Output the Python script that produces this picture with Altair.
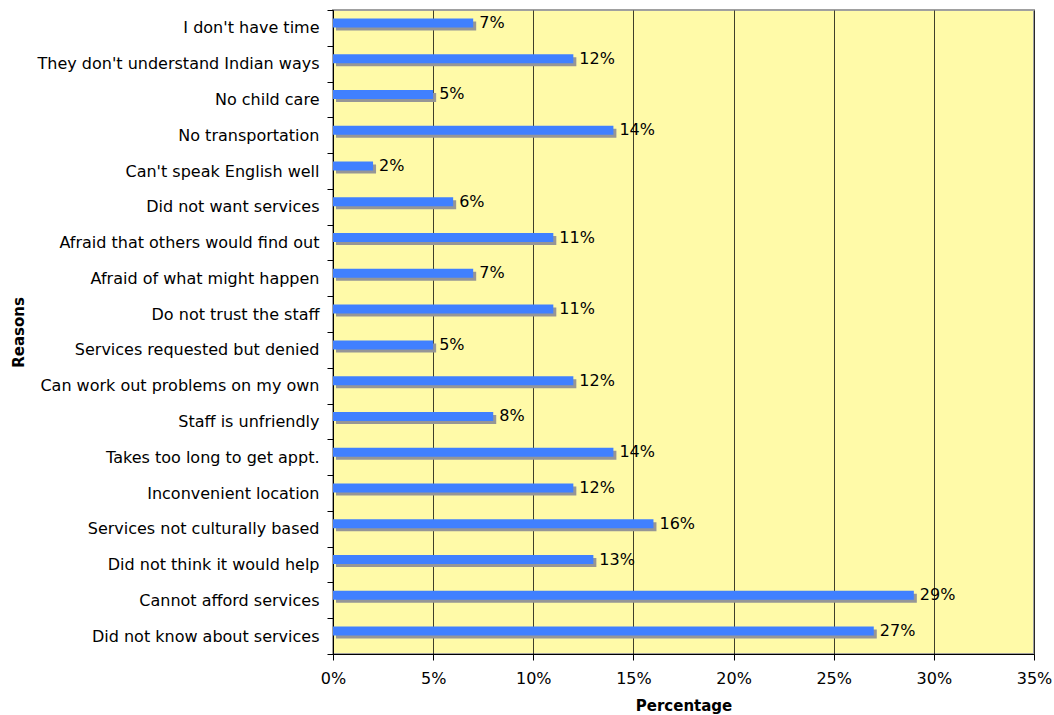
import altair as alt
import pandas as pd

# Reasons for not using services, top to bottom
reasons = [
    "I don't have time",
    "They don't understand Indian ways",
    "No child care",
    "No transportation",
    "Can't speak English well",
    "Did not want services",
    "Afraid that others would find out",
    "Afraid of what might happen",
    "Do not trust the staff",
    "Services requested but denied",
    "Can work out problems on my own",
    "Staff is unfriendly",
    "Takes too long to get appt.",
    "Inconvenient location",
    "Services not culturally based",
    "Did not think it would help",
    "Cannot afford services",
    "Did not know about services\u00a0",
]
# Share of respondents giving each reason
shares = [0.07, 0.12, 0.05, 0.14, 0.02, 0.06, 0.11, 0.07, 0.11, 0.05,
          0.12, 0.08, 0.14, 0.12, 0.16, 0.13, 0.29, 0.27]
x_ticks = [0, 0.05, 0.10, 0.15, 0.20, 0.25, 0.30, 0.35]

df = pd.DataFrame({"reason": reasons, "share": shares})

FONT = "DejaVu Sans"
LABEL_SIZE = 16

x_enc = alt.X(
    "share:Q",
    scale=alt.Scale(domain=[0, 0.35], nice=False),
    axis=alt.Axis(
        title="Percentage", format=".0%", values=x_ticks,
        grid=True, gridColor="#000000", gridOpacity=0.75, gridWidth=1,
        domainColor="#000000", tickColor="#000000", tickSize=6,
        labelFontSize=LABEL_SIZE, labelColor="#000000", labelPadding=10,
        labelAlign="center", labelFlush=False,
        titleFontSize=15, titleFontWeight="bold", titleColor="#000000",
        titleBaseline="middle", titleY=51,
    ),
)
y_enc = alt.Y(
    "reason:N", sort=reasons,
    scale=alt.Scale(paddingInner=0, paddingOuter=0),
    axis=alt.Axis(
        title="Reasons", tickBand="extent",
        domainColor="#000000", tickColor="#000000", tickSize=6,
        labelFontSize=LABEL_SIZE, labelColor="#000000", labelPadding=8,
        labelLimit=400,
        titleFontSize=15, titleFontWeight="bold", titleColor="#000000",
        titleAngle=-90, titleBaseline="middle", titleAlign="center",
        titleX=-315, titleY=322,
    ),
)

base = alt.Chart(df)

shadow = base.mark_bar(
    color="#969696", height=9, yOffset=-2, xOffset=3, x2Offset=3
).encode(x=x_enc, x2=alt.datum(0), y=y_enc)

bars = base.mark_bar(
    color="#4080FF", height=9, yOffset=-5
).encode(x=x_enc, x2=alt.datum(0), y=y_enc)

labels = base.mark_text(
    align="left", baseline="middle", dx=6, yOffset=-5,
    fontSize=LABEL_SIZE, font=FONT, color="#000000",
).encode(x="share:Q", y=alt.Y("reason:N", sort=reasons),
         text=alt.Text("share:Q", format=".0%"))

chart = (
    alt.layer(shadow, bars, labels)
    .properties(
        width=701, height=644,
        autosize=alt.AutoSizeParams(type="none"),
        padding={"left": 333, "top": 10, "right": 20, "bottom": 61},
        background="#ffffff",
    )
    .configure_view(fill="#FFFAA8", stroke="#A0A0A0", strokeWidth=2)
    .configure_axis(labelFont=FONT, titleFont=FONT)
)

chart.save("out.html", embed_options={"renderer": "svg", "actions": False})
